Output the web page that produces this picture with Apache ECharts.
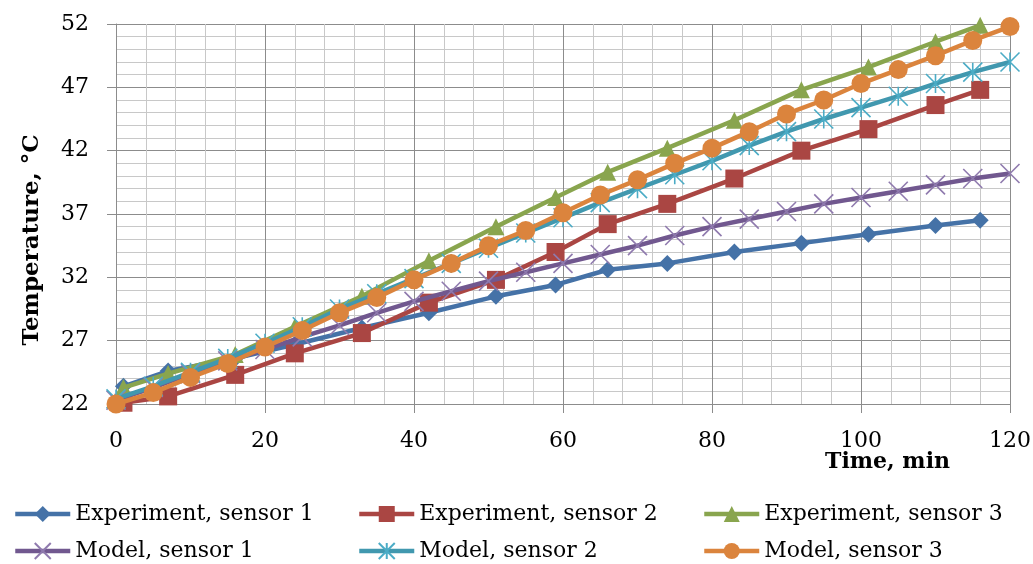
<!DOCTYPE html>
<html>
<head>
<meta charset="utf-8">
<script src="https://cdn.jsdelivr.net/npm/echarts@6/dist/echarts.min.js"></script>
<style>
html,body{margin:0;padding:0;background:#fff;}
#chart{width:1033px;height:564px;}
</style>
</head>
<body>
<div id="chart"></div>
<script>
// ---- data ----
const expTime = [1, 7, 16, 24, 33, 42, 51, 59, 66, 74, 83, 92, 101, 110, 116];
const exp1 = [23.4, 24.6, 25.6, 26.7, 28.0, 29.2, 30.5, 31.4, 32.6, 33.1, 34.0, 34.7, 35.4, 36.1, 36.5];
const exp2 = [22.1, 22.6, 24.3, 26.0, 27.6, 30.0, 31.8, 34.0, 36.2, 37.8, 39.8, 42.0, 43.7, 45.6, 46.8];
const exp3 = [23.3, 24.4, 25.9, 28.1, 30.5, 33.3, 36.0, 38.3, 40.3, 42.2, 44.4, 46.8, 48.6, 50.6, 51.9];
const modelTime = [0, 5, 10, 15, 20, 25, 30, 35, 40, 45, 50, 55, 60, 65, 70, 75, 80, 85, 90, 95, 100, 105, 110, 115, 120];
const model1 = [22.3, 23.3, 24.4, 25.4, 26.3, 27.3, 28.2, 29.2, 30.1, 30.9, 31.7, 32.4, 33.1, 33.8, 34.5, 35.3, 36.0, 36.6, 37.2, 37.8, 38.3, 38.8, 39.3, 39.8, 40.2];
const model2 = [22.4, 23.4, 24.5, 25.6, 26.8, 28.1, 29.5, 30.7, 31.9, 33.1, 34.3, 35.5, 36.7, 37.9, 39.0, 40.1, 41.2, 42.4, 43.5, 44.5, 45.4, 46.3, 47.3, 48.2, 49.0];
const model3 = [22.0, 22.9, 24.1, 25.2, 26.5, 27.8, 29.2, 30.4, 31.8, 33.1, 34.5, 35.7, 37.1, 38.5, 39.7, 41.0, 42.2, 43.5, 44.9, 46.0, 47.3, 48.4, 49.5, 50.7, 51.8];
const seriesNames = ['Experiment, sensor 1', 'Experiment, sensor 2', 'Experiment, sensor 3', 'Model, sensor 1', 'Model, sensor 2', 'Model, sensor 3'];
const xAxisTitle = 'Time, min';
const yAxisTitle = 'Temperature, °C';

const pair = (xs, ys) => xs.map((x, i) => [x, ys[i]]);
const FONT = 'DejaVu Serif';
const majorGrid = '#8c8c8c';
const minorGrid = '#c8c8c8';

const colors = ['#4572A7', '#AA4643', '#89A54E', '#71588F', '#4198AF', '#DB843D'];
const markColors = ['#4572A7', '#AA4643', '#89A54E', '#8F7AAE', '#4BACC6', '#DB843D'];
const symbols = ['diamond', 'rect', 'triangle',
  'path://M0 0L20 20M20 0L0 20',
  'path://M0 0L20 20M20 0L0 20M10 0L10 20',
  'circle'];
const sizes = [17, 18, 17, 19, 19, 19];
const datas = [pair(expTime, exp1), pair(expTime, exp2), pair(expTime, exp3),
  pair(modelTime, model1), pair(modelTime, model2), pair(modelTime, model3)];

const series = seriesNames.map((name, i) => {
  const outline = i === 3 || i === 4;
  return {
    name: name,
    type: 'line',
    data: datas[i],
    symbol: symbols[i],
    symbolSize: sizes[i],
    symbolKeepAspect: true,
    showAllSymbol: true,
    lineStyle: { color: colors[i], width: 4.5 },
    itemStyle: outline
      ? { color: 'rgba(0,0,0,0)', borderColor: markColors[i], borderWidth: 1.6 }
      : { color: markColors[i], borderWidth: 0 },
    emphasis: { disabled: true },
    z: 2 + i
  };
});

const legendPos = [[13, 503], [357, 503], [702, 503], [13, 540], [357, 540], [702, 540]];
const legends = seriesNames.map((name, i) => ({
  data: [name],
  left: legendPos[i][0],
  top: legendPos[i][1],
  itemWidth: 55,
  itemHeight: 20,
  padding: 0,
  lineStyle: { width: 4.5 },
  textStyle: { fontFamily: FONT, fontSize: 22, color: '#000' },
  selectedMode: false
}));

const chart = echarts.init(document.getElementById('chart'), null, { renderer: 'canvas' });
chart.setOption({
  animation: false,
  backgroundColor: '#fff',
  textStyle: { fontFamily: FONT },
  legend: legends,
  grid: { left: 116, right: 23, top: 24, bottom: 160, containLabel: false, outerBoundsMode: 'none' },
  xAxis: {
    type: 'value', min: 0, max: 120, interval: 20,
    name: xAxisTitle,
    nameLocation: 'end',
    nameGap: -60,
    nameMoveOverlap: false,
    nameTextStyle: { fontFamily: FONT, fontSize: 22, fontWeight: 'bold', color: '#000', align: 'right', verticalAlign: 'top', padding: [47, 0, 0, 0] },
    axisLine: { show: true, lineStyle: { color: majorGrid, width: 1 } },
    axisTick: { show: true, length: 9, lineStyle: { color: majorGrid } },
    axisLabel: { fontFamily: FONT, fontSize: 22, color: '#000', margin: 26 },
    splitLine: { show: true, lineStyle: { color: majorGrid, width: 1 } },
    minorTick: { show: false, splitNumber: 5 },
    minorSplitLine: { show: true, lineStyle: { color: minorGrid, width: 1 } }
  },
  yAxis: {
    type: 'value', min: 22, max: 52, interval: 5,
    name: yAxisTitle,
    nameLocation: 'middle',
    nameRotate: 90,
    nameGap: 72,
    nameTextStyle: { fontFamily: FONT, fontSize: 23, fontWeight: 'bold', color: '#000', padding: [0, 52, 0, 0] },
    axisLine: { show: true, lineStyle: { color: majorGrid, width: 1 } },
    axisTick: { show: true, length: 9, lineStyle: { color: majorGrid } },
    axisLabel: { fontFamily: FONT, fontSize: 22, color: '#000', margin: 27 },
    splitLine: { show: true, lineStyle: { color: majorGrid, width: 1 } },
    minorTick: { show: false, splitNumber: 5 },
    minorSplitLine: { show: true, lineStyle: { color: minorGrid, width: 1 } }
  },
  series: series
});
</script>
</body>
</html>
